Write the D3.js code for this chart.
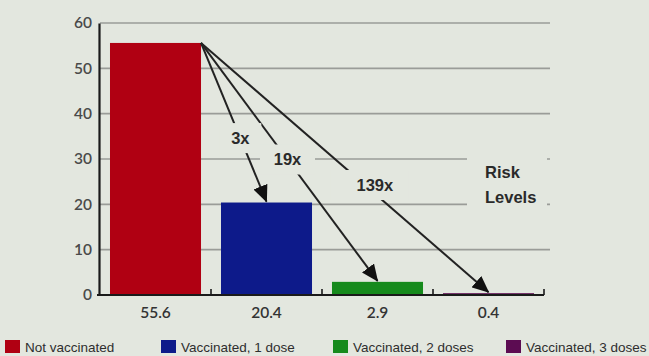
<!DOCTYPE html>
<html>
<head>
<meta charset="utf-8">
<script src="https://cdn.jsdelivr.net/npm/d3@7"></script>
<style>
  html, body { margin: 0; padding: 0; background: #e3e7df; }
  svg { display: block; }
</style>
</head>
<body>
<svg id="chart" width="649" height="356"></svg>
<script>
// Risk level per group (rate per group, shown under each bar)
const categories = ["Not vaccinated", "Vaccinated, 1 dose", "Vaccinated, 2 doses", "Vaccinated, 3 doses"];
const values = [55.6, 20.4, 2.9, 0.4];
const valueLabels = ["55.6", "20.4", "2.9", "0.4"];
const colors = ["#b00012", "#0d1a8a", "#168a1c", "#5c0c52"];
const yTicks = [0, 10, 20, 30, 40, 50, 60];
// Relative risk annotations: from the unvaccinated bar to each vaccinated group
const ratioTargets = [1, 2, 3];
const ratioLabels = ["3x", "19x", "139x"];
const sideTitle = ["Risk", "Levels"];

const bg = "#e3e7df";
const svg = d3.select("#chart");

const x = d3.scaleBand().domain(categories).range([100, 544]).paddingInner(0.18).paddingOuter(0.09);
const y = d3.scaleLinear().domain([0, 60]).range([295, 23]);

// Horizontal gridlines
svg.append("g")
  .selectAll("line")
  .data(yTicks.filter(t => t > 0))
  .join("line")
  .attr("x1", 100).attr("x2", 550)
  .attr("y1", d => y(d)).attr("y2", d => y(d))
  .attr("stroke", "#9a9c98").attr("stroke-width", 1.6);

// Y axis
const yAxis = svg.append("g")
  .attr("transform", "translate(99,0)")
  .call(d3.axisLeft(y).tickValues(yTicks).tickSize(0).tickPadding(7));
yAxis.select(".domain").attr("stroke", "#1a1a1a").attr("stroke-width", 2.2);
yAxis.selectAll("text")
  .attr("font-family", "Lato, 'DejaVu Sans', sans-serif")
  .attr("font-size", 15.5).attr("font-weight", 600)
  .attr("fill", "#4a4a4a");

// Bars
svg.append("g")
  .selectAll("rect")
  .data(categories)
  .join("rect")
  .attr("x", d => x(d))
  .attr("width", x.bandwidth())
  .attr("y", (d, i) => y(values[i]))
  .attr("height", (d, i) => y(0) - y(values[i]))
  .attr("fill", (d, i) => colors[i]);

// X axis with ticks at band boundaries
const bounds = categories.map(c => x(c) + x.bandwidth() + x.step() * x.paddingInner() / 2);
const xAxisG = svg.append("g");
xAxisG.append("line")
  .attr("x1", 97).attr("x2", bounds[bounds.length - 1])
  .attr("y1", y(0)).attr("y2", y(0))
  .attr("stroke", "#1a1a1a").attr("stroke-width", 2.2);
xAxisG.selectAll("line.tick")
  .data(bounds)
  .join("line")
  .attr("class", "tick")
  .attr("x1", d => d).attr("x2", d => d)
  .attr("y1", y(0)).attr("y2", y(0) - 6)
  .attr("stroke", "#1a1a1a").attr("stroke-width", 1.6);
xAxisG.selectAll("text")
  .data(categories)
  .join("text")
  .attr("x", d => x(d) + x.bandwidth() / 2)
  .attr("y", 318)
  .attr("text-anchor", "middle")
  .attr("font-family", "Lato, 'DejaVu Sans', sans-serif")
  .attr("font-size", 15.5).attr("font-weight", 600)
  .attr("fill", "#333")
  .text((d, i) => valueLabels[i]);

// Arrows
const defs = svg.append("defs");
defs.append("marker")
  .attr("id", "head")
  .attr("markerUnits", "userSpaceOnUse")
  .attr("viewBox", "0 0 17 15")
  .attr("refX", 16).attr("refY", 7.5)
  .attr("markerWidth", 17).attr("markerHeight", 15)
  .attr("orient", "auto")
  .append("path")
  .attr("d", "M0,0 L17,7.5 L0,15 Z")
  .attr("fill", "#111");

// Where each label sits along its arrow, and its sideways nudge
const labelT = [0.6, 0.49, 0.57];
const labelDx = [0, 0, 10];

const sx = x(categories[0]) + x.bandwidth();
const sy = y(values[0]);
const arrows = ratioTargets.map((ti, k) => {
  const tx = x(categories[ti]) + x.bandwidth() / 2;
  const ty = y(values[ti]) - 1;
  const t = labelT[k];
  return { tx, ty, lx: sx + (tx - sx) * t, ly: sy + (ty - sy) * t, dx: labelDx[k], label: ratioLabels[k] };
});

svg.append("g")
  .selectAll("line")
  .data(arrows)
  .join("line")
  .attr("x1", sx).attr("y1", sy)
  .attr("x2", d => d.tx).attr("y2", d => d.ty)
  .attr("stroke", "#222").attr("stroke-width", 2)
  .attr("marker-end", "url(#head)");

// Ratio labels sit on the arrows with a knock-out background
const lab = svg.append("g").selectAll("g").data(arrows).join("g")
  .attr("transform", d => `translate(${d.lx},${d.ly})`);
lab.append("rect")
  .attr("x", d => -d.label.length * 6.5 - 8).attr("y", -15)
  .attr("width", d => d.label.length * 13 + 16 + d.dx).attr("height", 30)
  .attr("fill", bg);
lab.append("text")
  .attr("x", d => d.dx)
  .attr("text-anchor", "middle")
  .attr("dy", "0.36em")
  .attr("font-family", "'Liberation Sans', Arial, sans-serif")
  .attr("font-size", 16.5).attr("font-weight", "bold")
  .attr("fill", "#2a2a2a")
  .text(d => d.label);

// Side title
const side = svg.append("g").attr("transform", "translate(485,0)");
side.append("rect").attr("x", -18).attr("y", 152).attr("width", 80).attr("height", 58).attr("fill", bg);
side.selectAll("text")
  .data(sideTitle)
  .join("text")
  .attr("x", 0)
  .attr("y", (d, i) => 178 + i * 25)
  .attr("font-family", "'Liberation Sans', Arial, sans-serif")
  .attr("font-size", 16.5).attr("font-weight", "bold")
  .attr("fill", "#2a2a2a")
  .text(d => d);

// Legend
const legendX = [5, 161, 333, 506];
const leg = svg.append("g").selectAll("g").data(categories).join("g")
  .attr("transform", (d, i) => `translate(${legendX[i]},340)`);
leg.append("rect").attr("width", 15).attr("height", 13).attr("fill", (d, i) => colors[i]);
leg.append("text")
  .attr("x", 20).attr("y", 12)
  .attr("font-family", "'Liberation Sans', Arial, sans-serif")
  .attr("font-size", 13.5)
  .attr("fill", "#2e2e2e")
  .text(d => d);
</script>
</body>
</html>
